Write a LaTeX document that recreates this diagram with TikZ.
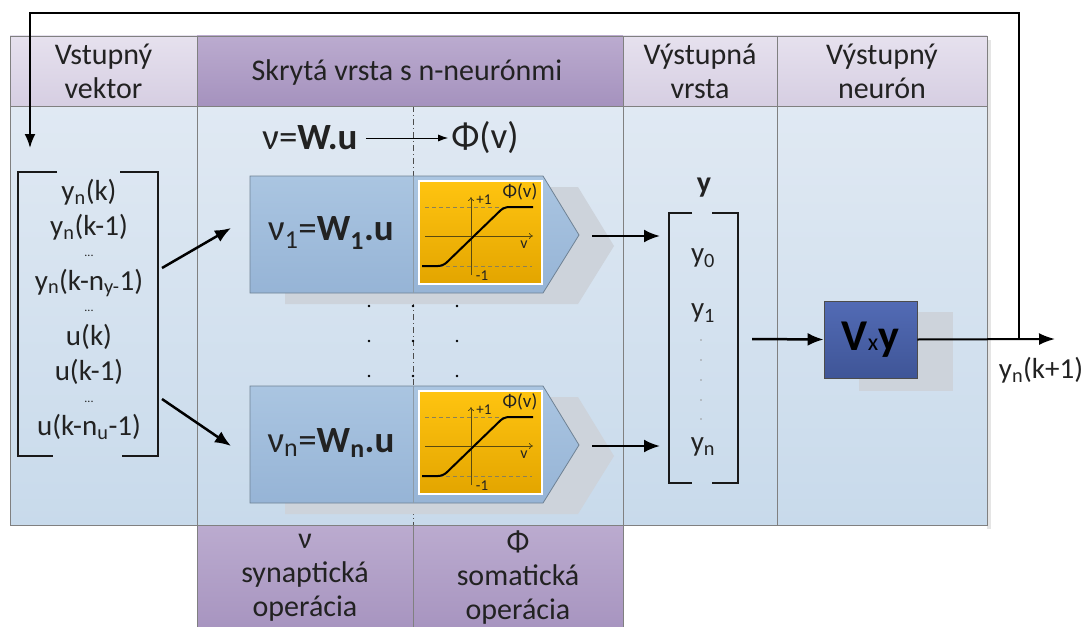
\documentclass[tikz,border=0pt]{standalone}
\usepackage{fontspec}
\setmainfont{Carlito}
\usetikzlibrary{arrows.meta}

\definecolor{hdrlight}{HTML}{E6E1EE}
\definecolor{hdrlight2}{HTML}{D6CEE2}
\definecolor{hdrdark}{HTML}{BBABCF}
\definecolor{hdrdark2}{HTML}{A592BE}
\definecolor{bodytop}{HTML}{E0E9F3}
\definecolor{bodybot}{HTML}{C8DAEB}
\definecolor{cellline}{HTML}{808080}
\definecolor{neufill}{HTML}{AAC5E1}
\definecolor{neufill2}{HTML}{96B4D6}
\definecolor{neuline}{HTML}{6F8294}
\definecolor{shadowc}{HTML}{CDD3DB}
\definecolor{yel1}{HTML}{FFC410}
\definecolor{yel2}{HTML}{E3A500}
\definecolor{vbox1}{HTML}{526BB5}
\definecolor{vbox2}{HTML}{3F5597}
\definecolor{txt}{HTML}{222222}
\definecolor{axisc}{HTML}{5A4A10}

\tikzset{
  cell/.style={draw=cellline, line width=0.8pt},
  hdr/.style={font=\fontsize{30}{34}\selectfont, align=center, text=txt, inner sep=0pt},
  vec/.style={font=\fontsize{29}{30}\selectfont, text=txt, inner sep=0pt},
  vdots/.style={font=\fontsize{12}{12}\selectfont, text=txt, inner sep=0pt},
  bracket/.style={draw=black!90, line width=2.2pt},
  bigarrow/.style={line width=2.5pt, -{Latex[length=16pt,width=13pt]}},
  fbline/.style={line width=2pt, -{Latex[length=14pt,width=11pt]}},
  eqtext/.style={font=\fontsize{37}{40}\selectfont, text=txt, inner sep=0pt},
  chartdash/.style={draw=axisc!70, line width=0.7pt, dash pattern=on 4pt off 3pt},
  chartax/.style={draw=axisc, line width=0.8pt, -{To[length=4pt,width=6pt]}},
  chartlbl/.style={text=txt, inner sep=0pt},
}

% one hidden neuron: synaptic part, activation plot and its output arrow point
\newcommand\hiddenneuron[3]{%
  \begin{scope}[yshift=#2]
    \fill[shadowc] (285,187) -- (578,187) -- (614,246) -- (578,304) -- (285,304) -- cycle;
    \draw[neuline, line width=0.8pt, top color=neufill, bottom color=neufill2]
      (250,176) -- (543,176) -- (579,235) -- (543,293) -- (250,293) -- cycle;
    \draw[neuline!80, line width=0.8pt] (413,176) -- (413,293);
    \draw[white, line width=1.2pt, top color=yel1, bottom color=yel2] (419,181) rectangle (542,284);
    \draw[chartdash] (425,207) -- (532,207);
    \draw[chartdash] (425,266) -- (532,266);
    \draw[chartax] (471,275) -- (471,197);
    \draw[chartax] (425,236) -- (533,236);
    \draw[black, line width=2pt, rounded corners=5pt] (422,266) -- (443,266) -- (504,207) -- (533,207);
    \node[chartlbl, font=\fontsize{15}{15}\selectfont] (#1p) at (484,200) {+1};
    \node[chartlbl, font=\fontsize{19}{19}\selectfont] (#1f) at (520,192) {Φ(v)};
    \node[chartlbl, font=\fontsize{16}{16}\selectfont] (#1v) at (524,245) {v};
    \node[chartlbl, font=\fontsize{15}{15}\selectfont] (#1m) at (482,276) {-1};
    \node[eqtext] (#1) at (331,233) {ν\textsubscript{#3}=\textbf{W\textsubscript{#3}.u}};
    \coordinate (#1out) at (592,236);
  \end{scope}}

\begin{document}
\begin{tikzpicture}[x=1pt, y=-1pt]
\useasboundingbox (0,0) rectangle (1086,626);

% body of the table
\fill[black!10] (987,40) rectangle (991,529);
\shade[top color=bodytop, bottom color=bodybot] (10,106) rectangle (987,525);
\draw[cell] (10,106) rectangle (987,525);
\draw[cell] (197,106) -- (197,525);
\draw[cell] (623,106) -- (623,525);
\draw[cell] (777,106) -- (777,525);
\draw[black!70, line width=0.7pt, dash pattern=on 6pt off 3pt on 1pt off 3pt] (413,106) -- (413,525);

% header row
\draw[cell, top color=hdrlight, bottom color=hdrlight2] (10,36) rectangle (197,106);
\draw[cell, top color=hdrdark, bottom color=hdrdark2] (197,36) rectangle (623,106);
\draw[cell, top color=hdrlight, bottom color=hdrlight2] (623,36) rectangle (777,106);
\draw[cell, top color=hdrlight, bottom color=hdrlight2] (777,36) rectangle (987,106);
\node[hdr] (h1) at (103.5,71) {Vstupný\\vektor};
\node[hdr] (h2) at (407,73) {Skrytá vrsta s n-neurónmi};
\node[hdr] (h3) at (700,71) {Výstupná\\vrsta};
\node[hdr] (h4) at (882,71) {Výstupný\\neurón};

% bottom row under the hidden layer
\draw[cell, top color=hdrdark, bottom color=hdrdark2] (197,525) rectangle (413,640);
\draw[cell, top color=hdrdark, bottom color=hdrdark2] (413,525) rectangle (623,640);
\node[hdr] (b1) at (305,578) {ν\\synaptická\\operácia};
\node[hdr] (b2) at (518,578) {Φ\\somatická\\operácia};

% input vector
\draw[bracket] (57,172) -- (18,172) -- (18,456) -- (53,456);
\draw[bracket] (120,172) -- (158,172) -- (158,456) -- (122,456);
\node[vec] (i1) at (89,192) {y\textsubscript{n}(k)};
\node[vec] (i2) at (89,227) {y\textsubscript{n}(k-1)};
\node[vdots] (i3) at (89,256) {...};
\node[vec] (i4) at (89,283) {y\textsubscript{n}(k-n\textsubscript{y-}1)};
\node[vdots] (i5) at (89,311) {...};
\node[vec] (i6) at (89,337) {u(k)};
\node[vec] (i7) at (89,372) {u(k-1)};
\node[vdots] (i8) at (89,402) {...};
\node[vec] (i9) at (89,427) {u(k-n\textsubscript{u}-1)};
\coordinate (inA) at (162,268);
\coordinate (inB) at (162,399);

% top equation of the hidden layer
\node[eqtext] (eqv) at (310,138) {ν=\textbf{W.u}};
\node[eqtext] (eqphi) at (485,138) {Φ(v)};
\draw[line width=1pt, -{Latex[length=10pt,width=7pt]}] (eqv.east) ++(8,0) -- ([xshift=-3pt]eqphi.west);

% hidden neurons
\hiddenneuron{n1}{0pt}{1}
\hiddenneuron{nn}{-210pt}{n}
\coordinate (n1in) at (231,228);
\coordinate (nnin) at (231,446);

% dots between the neurons
\foreach \yy in {306,341,376} {
  \fill (369,\yy) circle[radius=1.4pt];
  \fill (413,\yy) circle[radius=1.4pt];
  \fill (457,\yy) circle[radius=1.4pt];
}

\draw[bigarrow] (inA) -- (n1in);
\draw[bigarrow] (inB) -- (nnin);

% output layer vector
\node[font=\fontsize{30}{30}\selectfont\bfseries, text=txt, inner sep=0pt] (ylab) at (704,188) {y};
\draw[bracket] (692,213) -- (669,213) -- (669,483) -- (692,483);
\draw[bracket] (712,213) -- (738,213) -- (738,483) -- (712,483);
\node[vec] (o0) at (703,258) {y\textsubscript{0}};
\node[vec] (o1) at (703,313) {y\textsubscript{1}};
\foreach \yy in {340,360,380,400,419} \fill[black!40] (701,\yy) circle[radius=0.8pt];
\node[vec] (on) at (703,447) {y\textsubscript{n}};
\coordinate (oinA) at (660,236);
\coordinate (oinB) at (660,446);
\draw[bigarrow] (n1out) -- (oinA);
\draw[bigarrow] (nnout) -- (oinB);

% output neuron
\fill[shadowc] (859,312) rectangle (953,391);
\node[draw=black!70, line width=0.8pt, top color=vbox1, bottom color=vbox2,
      minimum width=93pt, minimum height=77pt, inner sep=0pt] (vbox) at (870.5,339.5)
      {\fontsize{44}{44}\selectfont\bfseries V\mdseries\fontsize{24}{24}\selectfont x\fontsize{44}{44}\selectfont\bfseries y};
\coordinate (vin) at (752,339);
\draw[bigarrow] (vin) -- (vbox.west);

% network output and its feedback to the input vector
\coordinate (yout) at (1055,339);
\coordinate (fb) at (1019,339);
\coordinate (fbtop) at (1019,13);
\coordinate (fbleft) at (30,13);
\coordinate (fbend) at (30,148);
\draw[line width=2pt, -{Latex[length=16pt,width=12pt]}] (vbox.east) -- (yout);
\draw[fbline] (fb) -- (fbtop) -- (fbleft) -- (fbend);
\node[vec] (ylbl) at (1041,370) {y\textsubscript{n}(k+1)};
\end{tikzpicture}
\end{document}
